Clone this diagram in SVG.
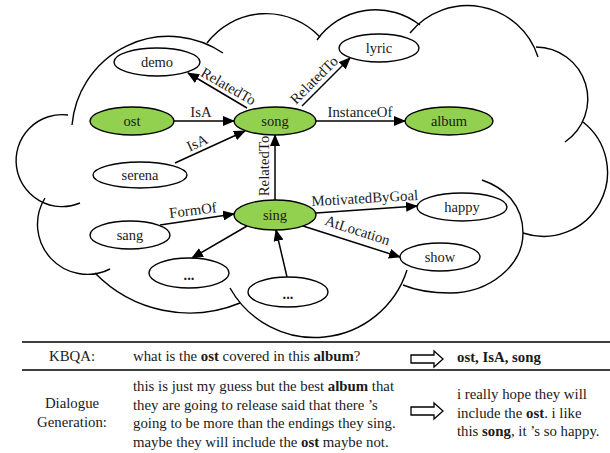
<svg xmlns="http://www.w3.org/2000/svg" width="610" height="453" viewBox="0 0 610 453">
<style>
.cl{fill:none;stroke:#000;stroke-width:1.4}
.nw{fill:#fff;stroke:#000;stroke-width:1.4}
.ng{fill:#92D050;stroke:#000;stroke-width:1.4}
text{font-family:"Liberation Serif","Times New Roman",serif;fill:#1a1a1a}
.nt{font-size:14.5px;text-anchor:middle}
.lb{font-size:14.8px;text-anchor:middle}
.tb{font-size:14.8px}
.tc{font-size:14.8px;text-anchor:middle}
.e{stroke:#000;stroke-width:1.5;fill:none;marker-end:url(#ah)}
.rule{stroke:#000;stroke-width:1.6}
.ba{fill:#fff;stroke:#000;stroke-width:1.3}
.b{font-weight:bold}
</style>
<defs>
<marker id="ah" markerUnits="userSpaceOnUse" markerWidth="12" markerHeight="10" viewBox="0 0 12 10" refX="11" refY="5" orient="auto">
<path d="M0,0 L12,5 L0,10 Z" fill="#000"/>
</marker>
</defs>

<g id="cloud">
<path class="cl" d="M207,43 A74,74 0 0 1 320,37"/>
<path class="cl" d="M317,40 A72,72 0 0 1 420,25"/>
<path class="cl" d="M410,33 A74,74 0 0 1 538,57"/>
<path class="cl" d="M536,47 A52,52 0 0 1 565,142"/>
<path class="cl" d="M583,122 A64,64 0 0 1 523,233"/>
<path class="cl" d="M482,180 C505,188 523,205 523,233 C523,265 490,293 450,293 C430,293 415,290 403,285"/>
<path class="cl" d="M230,288 A97,97 0 0 0 407,270"/>
<path class="cl" d="M95,273 A132,132 0 0 0 240,303"/>
<path class="cl" d="M45,198 A50,50 0 0 0 110,269"/>
<path class="cl" d="M68,115 A46,46 0 1 0 80,203"/>
<path class="cl" d="M223,53 A97,97 0 0 0 72,125"/>
</g>

<g id="connectors">
<line class="e" x1="247" y1="108" x2="188" y2="73"/>
<line class="e" x1="174" y1="121" x2="234" y2="121"/>
<line class="e" x1="175" y1="163" x2="245" y2="131"/>
<line class="e" x1="302" y1="106" x2="350" y2="58"/>
<line class="e" x1="316" y1="121" x2="405" y2="121"/>
<line class="e" x1="275" y1="200" x2="275" y2="135"/>
<line class="e" x1="160" y1="225" x2="234" y2="214"/>
<line class="e" x1="247" y1="226" x2="192" y2="258"/>
<line class="e" x1="287" y1="277" x2="276" y2="230"/>
<line class="e" x1="316" y1="213" x2="417" y2="206"/>
<line class="e" x1="303" y1="226" x2="400" y2="257"/>
<text class="lb" transform="translate(224,94) rotate(30)" y="-4">RelatedTo</text>
<text class="lb" transform="translate(321,87) rotate(-45)" y="-5">RelatedTo</text>
<text class="lb" x="201" y="117">IsA</text>
<text class="lb" transform="translate(201,151) rotate(-24.6)" y="-4">IsA</text>
<text class="lb" x="360" y="117">InstanceOf</text>
<text class="lb" transform="translate(269,166) rotate(-90)">RelatedTo</text>
<text class="lb" transform="translate(194,219) rotate(-7)" y="-4">FormOf</text>
<text class="lb" transform="translate(365,203) rotate(-3.3)">MotivatedByGoal</text>
<text class="lb" transform="translate(356,235) rotate(18)">AtLocation</text>
</g>

<g id="demo"><ellipse class="nw" cx="157" cy="62" rx="43" ry="14"/><text class="nt" x="157" y="67">demo</text></g>
<g id="lyric"><ellipse class="nw" cx="379" cy="48" rx="40" ry="14"/><text class="nt" x="379" y="53">lyric</text></g>
<g id="ost"><ellipse class="ng" cx="132" cy="121" rx="42" ry="14"/><text class="nt" x="132" y="126">ost</text></g>
<g id="song"><ellipse class="ng" cx="275" cy="121" rx="41" ry="14"/><text class="nt" x="275" y="126">song</text></g>
<g id="album"><ellipse class="ng" cx="449" cy="121" rx="44" ry="14"/><text class="nt" x="449" y="126">album</text></g>
<g id="serena"><ellipse class="nw" cx="140" cy="175" rx="47" ry="13"/><text class="nt" x="140" y="180">serena</text></g>
<g id="sing"><ellipse class="ng" cx="275" cy="215" rx="41" ry="15"/><text class="nt" x="275" y="220">sing</text></g>
<g id="sang"><ellipse class="nw" cx="130" cy="235" rx="40" ry="14"/><text class="nt" x="130" y="240">sang</text></g>
<g id="happy"><ellipse class="nw" cx="462" cy="207" rx="45" ry="14"/><text class="nt" x="462" y="212">happy</text></g>
<g id="show"><ellipse class="nw" cx="440" cy="257" rx="40" ry="14"/><text class="nt" x="440" y="262">show</text></g>
<g id="dots1"><ellipse class="nw" cx="189" cy="273" rx="40" ry="15"/><text class="nt b" x="189" y="280">...</text></g>
<g id="dots2"><ellipse class="nw" cx="288" cy="292" rx="40" ry="15"/><text class="nt b" x="288" y="299">...</text></g>

<g id="table">
<line class="rule" x1="22" y1="342" x2="610" y2="342"/>
<line class="rule" x1="22" y1="370" x2="610" y2="370"/>
<text class="tc" x="72" y="361">KBQA:</text>
<text class="tb" x="133" y="361">what is the <tspan class="b">ost</tspan> covered in this <tspan class="b">album</tspan>?</text>
<path class="ba" d="M411,355 H434 V351 L443,359 L434,367 V363 H411 Z"/>
<text class="tb b" x="457" y="362">ost, IsA, song</text>
<text class="tc" x="72" y="408">Dialogue</text>
<text class="tc" x="72" y="427">Generation:</text>
<text class="tb" x="133" y="391">this is just my guess but the best <tspan class="b">album</tspan> that</text>
<text class="tb" x="133" y="410">they are going to release said that there ’s</text>
<text class="tb" x="133" y="428">going to be more than the endings they sing.</text>
<text class="tb" x="133" y="447">maybe they will include the <tspan class="b">ost</tspan> maybe not.</text>
<path class="ba" d="M411,407 H434 V403 L443,411 L434,419 V415 H411 Z"/>
<text class="tb" x="457" y="399">i really hope they will</text>
<text class="tb" x="457" y="418">include the <tspan class="b">ost</tspan>. i like</text>
<text class="tb" x="457" y="436">this <tspan class="b">song</tspan>, it ’s so happy.</text>
</g>
</svg>
